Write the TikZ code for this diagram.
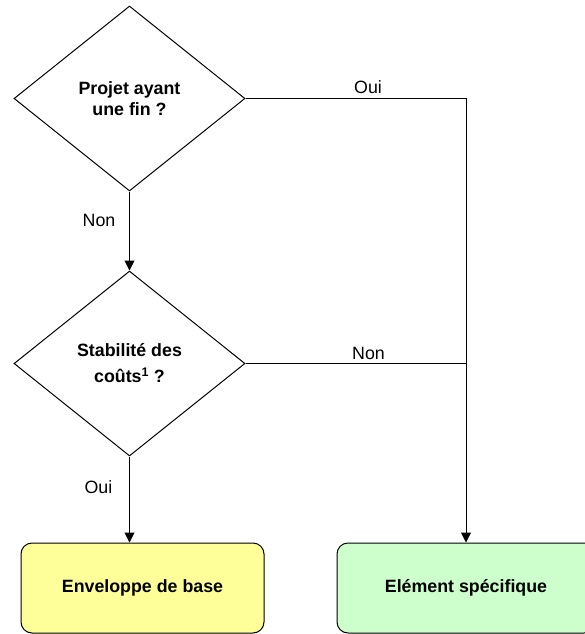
\documentclass[tikz,border=0pt]{standalone}
\usepackage{fontspec}
\setmainfont{Liberation Sans}
\usetikzlibrary{shapes.geometric,arrows.meta}
\definecolor{jaune}{HTML}{FFFF99}
\definecolor{vert}{HTML}{CCFFCC}
\newcommand{\corps}{\fontsize{17.8}{20.5}\selectfont}
\tikzset{
  question/.style={draw,shape=diamond,minimum width=231pt,minimum height=185pt,
    inner sep=0pt,align=center,font=\corps\bfseries},
  resultat/.style={draw,rounded corners=11pt,minimum height=90pt,font=\corps\bfseries},
  reponse/.style={inner sep=0pt,font=\corps},
  fleche/.style={-{Triangle[length=10pt,width=10pt]}}
}
\begin{document}
\begin{tikzpicture}[x=1pt,y=-1pt,line width=1pt]
\useasboundingbox (0,0) rectangle (584,634);

% questions
\node[question] (finQ) at (129.5,98.5) {Projet ayant\\une fin ?};
\node[question] (coutQ) at (129.5,363.5) {Stabilit\'e des\\[5.5pt]co\^uts\textsuperscript{1} ?};

% resultats
\node[resultat,fill=jaune,minimum width=243pt] (base) at (142.5,588) {Enveloppe de base};
\node[resultat,fill=vert,minimum width=258pt] (specif) at (466,588) {El\'ement sp\'ecifique};

% liaisons
\coordinate (haut) at (466,98.5);
\coordinate (milieu) at (466,363.5);
\draw[fleche] (finQ.south) -- (coutQ.north);
\draw[fleche] (coutQ.south) -- (coutQ.south |- base.north);
\draw[fleche] (finQ.east) -- (haut) -- (haut |- specif.north);
\draw (coutQ.east) -- (milieu);

% reponses
\node[reponse] (nonA) at (99,220) {Non};
\node[reponse] (ouiA) at (98.5,487) {Oui};
\node[reponse] (ouiB) at (368,87.5) {Oui};
\node[reponse] (nonB) at (368.5,353) {Non};
\end{tikzpicture}
\end{document}
